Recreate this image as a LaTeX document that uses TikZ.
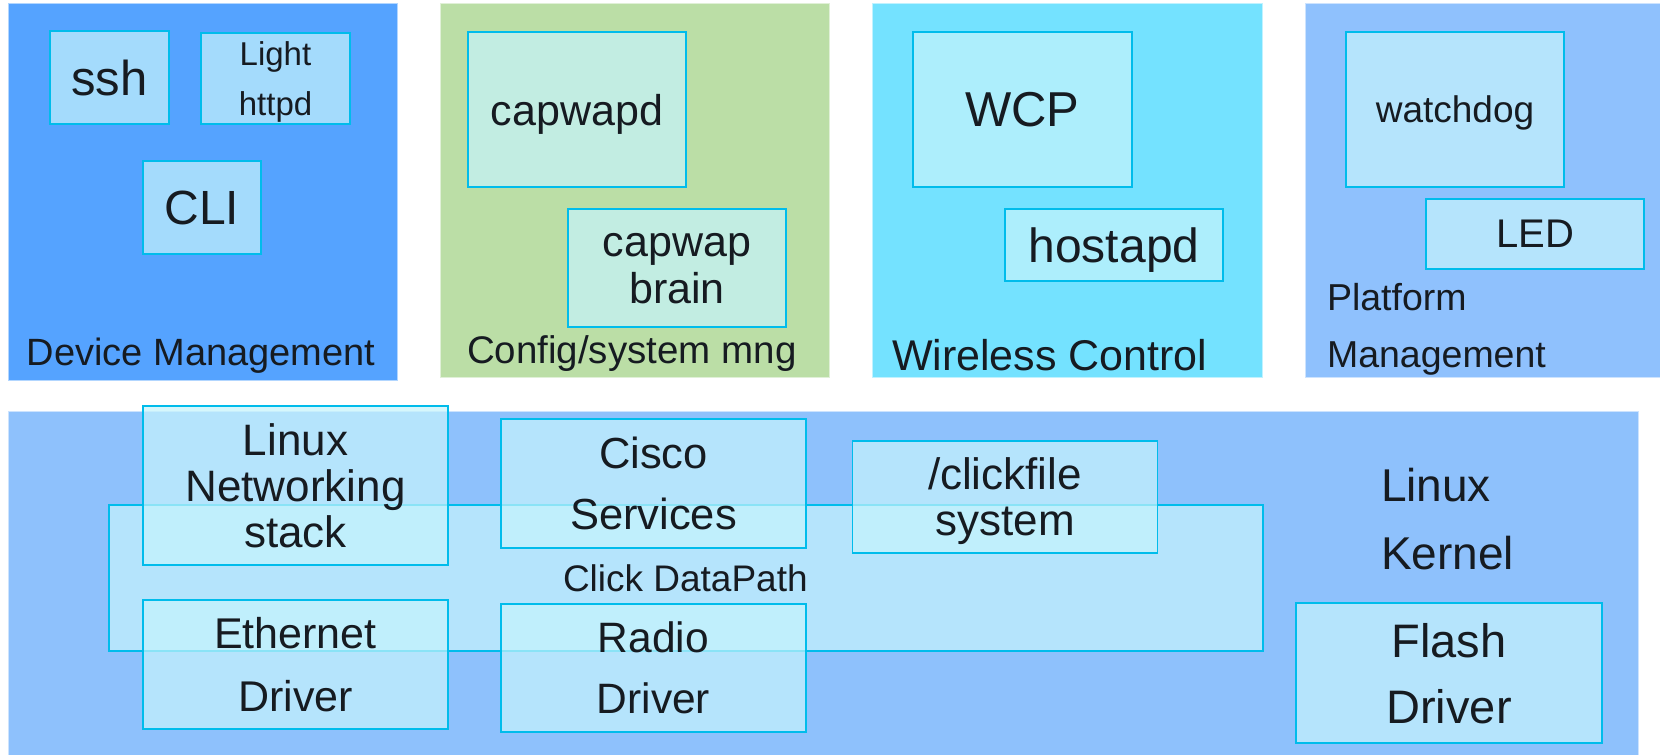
\documentclass[tikz,border=0pt]{standalone}
\usepackage{fontspec}
\setmainfont{Liberation Sans}

\definecolor{devpanel}{HTML}{55A3FF}
\definecolor{cfgpanel}{HTML}{BBDEA6}
\definecolor{wlpanel}{HTML}{74E2FF}
\definecolor{platpanel}{HTML}{8FC1FD}
\definecolor{kernpanel}{HTML}{8EC1FC}
\definecolor{boxfill}{RGB}{198,244,252}
\definecolor{boxline}{HTML}{00BCEB}
\definecolor{ink}{HTML}{161B21}

\newcommand\fsz[2]{\fontsize{#1}{#2}\selectfont}

\tikzset{
  panel/.style={fill=#1, draw=#1!45!white, line width=1pt, inner sep=0pt, outer sep=0pt},
  comp/.style={fill=boxfill, fill opacity=0.7, text opacity=1, draw=boxline,
    line width=1.6pt, inner sep=0pt, outer sep=0pt, align=center, text=ink,
    text depth=0pt},
  plabel/.style={anchor=base west, inner sep=0pt, outer sep=0pt, text=ink},
}

\begin{document}
\begin{tikzpicture}[x=1pt,y=-1pt]
\useasboundingbox[fill=white] (0,0) rectangle (1660,755);

% ---- user-space panels ----
\node[panel=devpanel, minimum width=389pt, minimum height=377pt] (dev) at (202.5,191.5) {};
\node[panel=cfgpanel, minimum width=389pt, minimum height=374pt] (cfg) at (634.5,190) {};
\node[panel=wlpanel, minimum width=390pt, minimum height=374pt] (wl) at (1067,190) {};
\node[panel=platpanel, minimum width=360pt, minimum height=374pt] (plat) at (1485,190) {};

% ---- kernel panel ----
\node[panel=kernpanel, minimum width=1630pt, minimum height=350pt] (kern) at (823,586) {};

% ---- panel captions ----
\node[plabel, font=\fsz{38}{41}] (devlbl) at (27,365) {Device Management};
\node[plabel, font=\fsz{38.5}{42}] (cfglbl) at (467,363) {Config/system mng};
\node[plabel, font=\fsz{43}{47}] (wllbl) at (892,370) {Wireless Control};
\node[plabel, font=\fsz{37.5}{40}] (platlblA) at (1327,310) {Platform};
\node[plabel, font=\fsz{37.5}{40}] (platlblB) at (1327,367) {Management};
\node[plabel, font=\fsz{46}{50}] (kernlblA) at (1381,501) {Linux};
\node[plabel, font=\fsz{46}{50}] (kernlblB) at (1381,569) {Kernel};

% ---- device management ----
\node[comp, minimum width=119pt, minimum height=93pt, font=\fsz{49}{54}] (ssh) at (109.5,77.5) {ssh};
\node[comp, minimum width=149pt, minimum height=91pt, font=\fsz{33}{50}] (httpd) at (275.5,78.5) {Light\\httpd};
\node[comp, minimum width=118pt, minimum height=93pt, font=\fsz{48}{52}] (cli) at (202,207.5) {CLI};

% ---- config / system management ----
\node[comp, minimum width=218pt, minimum height=155pt, font=\fsz{43}{47}] (capwapd) at (577,109.5) {capwapd};
\node[comp, minimum width=218pt, minimum height=118pt, font=\fsz{43}{47}] (brain) at (677,268) {capwap\\brain};

% ---- wireless control ----
\node[comp, minimum width=219pt, minimum height=155pt, font=\fsz{49}{53}] (wcp) at (1022.5,109.5) {WCP};
\node[comp, minimum width=218pt, minimum height=72pt, font=\fsz{48}{52}] (hostapd) at (1114,245) {hostapd};

% ---- platform management ----
\node[comp, minimum width=218pt, minimum height=155pt, font=\fsz{37}{40}] (watchdog) at (1455,109.5) {watchdog};
\node[comp, minimum width=218pt, minimum height=70pt, font=\fsz{40}{44}] (led) at (1535,234) {LED};

% ---- kernel: click datapath underlay ----
\node[comp, minimum width=1154pt, minimum height=146pt] (click) at (686,578) {};
\node[plabel, font=\fsz{37}{40}] (clicklbl) at (563,591) {Click DataPath};

% ---- kernel components ----
\node[comp, minimum width=305pt, minimum height=159pt, font=\fsz{44}{46}] (netstack) at (295.5,485.5) {Linux\\Networking\\stack};
\node[comp, minimum width=305pt, minimum height=129pt, font=\fsz{43.5}{61}] (cisco) at (653.5,483.5) {Cisco\\Services};
\node[comp, minimum width=305pt, minimum height=112pt, font=\fsz{44}{46}] (clickfs) at (1005,497) {/clickfile\\system};
\node[comp, minimum width=305pt, minimum height=129pt, font=\fsz{43}{63}] (eth) at (295.5,664.5) {Ethernet\\Driver};
\node[comp, minimum width=305pt, minimum height=128pt, font=\fsz{42.5}{61}] (radio) at (653.5,668) {Radio\\Driver};
\node[comp, minimum width=306pt, minimum height=140pt, font=\fsz{47}{66}] (flash) at (1449,673) {Flash\\Driver};
\end{tikzpicture}
\end{document}
